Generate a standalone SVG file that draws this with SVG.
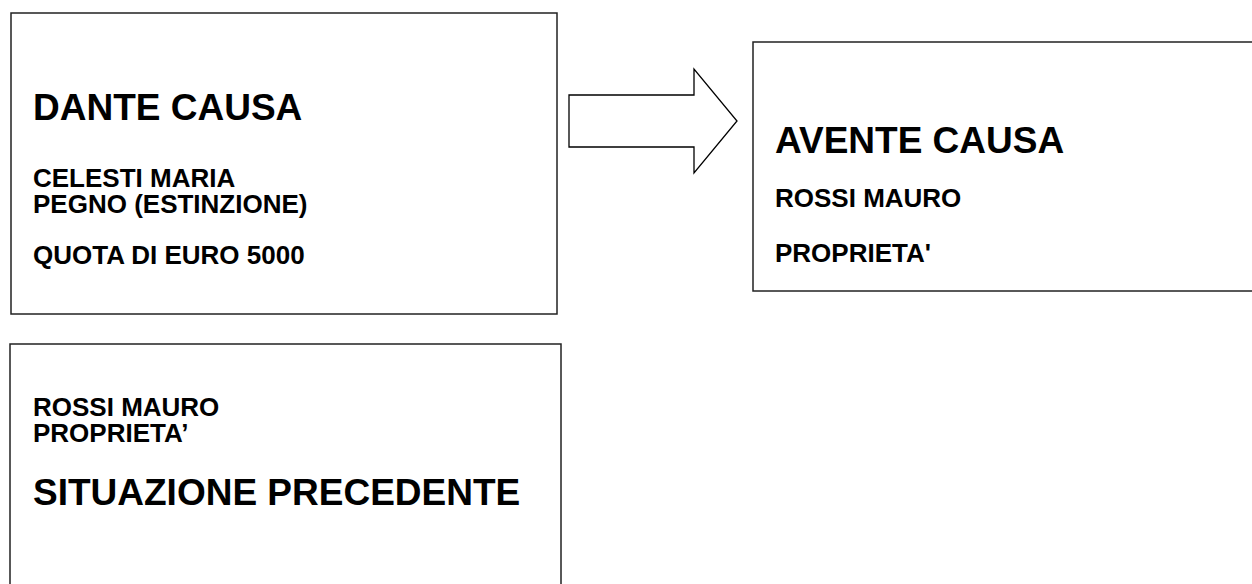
<svg xmlns="http://www.w3.org/2000/svg" width="1252" height="584" viewBox="0 0 1252 584">
<style>
.box{fill:#fff;stroke:#222;stroke-width:1.5}
.t{font-family:"Liberation Sans",Arial,sans-serif;font-weight:bold;fill:#000}
.big{font-size:37px}
.sm{font-size:26px}
</style>
<rect width="1252" height="584" fill="#fff"/>
<g id="dante">
<rect class="box" x="11" y="13" width="546" height="301"/>
<text class="t big" x="33" y="120">DANTE CAUSA</text>
<text class="t sm" x="33" y="187">CELESTI MARIA</text>
<text class="t sm" x="33" y="213">PEGNO (ESTINZIONE)</text>
<text class="t sm" x="33" y="264">QUOTA DI EURO 5000</text>
</g>
<g id="avente">
<rect class="box" x="753" y="42" width="510" height="249"/>
<text class="t big" x="775" y="153">AVENTE CAUSA</text>
<text class="t sm" x="775" y="207">ROSSI MAURO</text>
<text class="t sm" x="775" y="262">PROPRIETA'</text>
</g>
<g id="precedente">
<rect class="box" x="10" y="344" width="551" height="260"/>
<text class="t sm" x="33" y="416">ROSSI MAURO</text>
<text class="t sm" x="33" y="442">PROPRIETA’</text>
<text class="t big" x="33" y="505">SITUAZIONE PRECEDENTE</text>
</g>
<g id="connectors">
<polygon points="569,95 694,95 694,69 737,121 694,173 694,147 569,147" fill="#fff" stroke="#000" stroke-width="1.3"/>
</g>
</svg>
